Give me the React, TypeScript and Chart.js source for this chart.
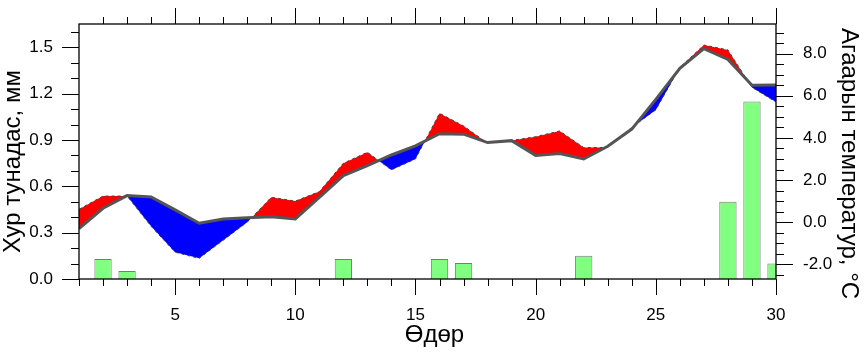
import React, { useEffect, useRef } from 'react';
import { Chart, registerables } from 'chart.js';

Chart.register(...registerables);

// ---- data ----
const days = [1, 2, 3, 4, 5, 6, 7, 8, 9, 10, 11, 12, 13, 14, 15, 16, 17, 18, 19, 20, 21, 22, 23, 24, 25, 26, 27, 28, 29, 30];

// precipitation, mm (left axis)
const precipitation = [null, 0.13, 0.052, null, null, null, null, null, null, null, 0.003, 0.13, null, null, null, 0.13, 0.103, null, null, null, null, 0.15, null, null, null, null, null, 0.5, 1.15, 0.1];

// air temperature, °C (right axis) – solid grey line
const tempObserved = [-0.31, 0.66, 1.26, 1.2, 0.58, -0.05, 0.15, 0.21, 0.26, 0.15, 1.18, 2.21, 2.68, 3.19, 3.62, 4.2, 4.18, 3.78, 3.87, 3.17, 3.26, 3.0, 3.6, 4.42, 5.83, 7.31, 8.24, 7.73, 6.5, 6.51];

// comparison temperature, °C – dashed edge of the red/blue fill
const tempCompare = [0.61, 1.24, 1.24, -0.2, -1.43, -1.72, -0.86, 0.0, 1.18, 1.0, 1.45, 2.8, 3.32, 2.48, 3.0, 5.17, 4.57, 3.75, 3.88, 4.06, 4.33, 3.54, 3.55, 4.5, 5.33, 7.35, 8.41, 8.18, 6.4, 5.7];

const xTickLabels = [5, 10, 15, 20, 25, 30];
const precipTickLabels = [0, 0.3, 0.6, 0.9, 1.2, 1.5];
const tempTickLabels = [-2, 0, 2, 4, 6, 8];

const xTitle = 'Өдөр';
const leftTitle = 'Хур тунадас, мм';
const rightTitle = 'Агаарын температур, °C';

const FONT = "'Liberation Sans', Arial, Helvetica, sans-serif";

const zeroPadding = (s: any) => {
  s.paddingTop = 0;
  s.paddingBottom = 0;
  s.paddingLeft = 0;
  s.paddingRight = 0;
};

const decorPlugin = {
  id: 'decor',
  afterDraw(chart: any) {
    const { ctx, chartArea: a, scales } = chart;
    const xs = scales.x;
    const yl = scales.yPrecip;
    const yr = scales.yTemp;
    ctx.save();
    ctx.strokeStyle = '#000';
    ctx.lineWidth = 1;
    ctx.beginPath();
    // x ticks (bottom and top)
    for (const d of days) {
      const px = Math.round(xs.getPixelForValue(d)) + 0.5;
      const len = d % 5 === 0 ? 16 : 7;
      ctx.moveTo(px, a.bottom);
      ctx.lineTo(px, a.bottom + len);
      if (d > 1) {
        ctx.moveTo(px, a.top);
        ctx.lineTo(px, a.top - len);
      }
    }
    // left ticks every 0.1, major every 0.3
    for (let i = 0; i <= 16; i++) {
      const py = Math.round(yl.getPixelForValue(i / 10)) + 0.5;
      const len = i % 3 === 0 ? 17 : 8;
      ctx.moveTo(a.left, py);
      ctx.lineTo(a.left - len, py);
    }
    // right ticks every 0.5, major every 2
    for (let i = -5; i <= 18; i++) {
      const py = Math.round(yr.getPixelForValue(i / 2)) + 0.5;
      const len = i % 4 === 0 ? 17 : 8;
      ctx.moveTo(a.right, py);
      ctx.lineTo(a.right + len, py);
    }
    ctx.stroke();
    // frame
    ctx.lineWidth = 1.3;
    ctx.strokeRect(a.left, a.top, a.right - a.left, a.bottom - a.top);

    // titles
    ctx.fillStyle = '#000';
    ctx.font = `24px ${FONT}`;
    ctx.textAlign = 'center';
    ctx.textBaseline = 'alphabetic';
    const midY = (a.top + a.bottom) / 2;
    ctx.save();
    ctx.translate(a.left - 59, midY + 10);
    ctx.rotate(-Math.PI / 2);
    ctx.fillText(leftTitle, 0, 0);
    ctx.restore();
    ctx.save();
    ctx.translate(a.right + 66, midY + 12);
    ctx.rotate(Math.PI / 2);
    ctx.fillText(rightTitle, 0, 0);
    ctx.restore();
    ctx.fillText(xTitle, (a.left + a.right) / 2 + 7, a.bottom + 63);
    ctx.restore();
  },
};

export default function App() {
  const ref = useRef<HTMLCanvasElement>(null);
  useEffect(() => {
    const tickFont = { family: FONT, size: 17 };
    const chart = new Chart(ref.current as HTMLCanvasElement, {
      type: 'bar',
      data: {
        datasets: [
          {
            type: 'bar',
            label: 'precip',
            data: days.map((d, i) => ({ x: d, y: precipitation[i] })) as any,
            yAxisID: 'yPrecip',
            backgroundColor: '#80ff80',
            borderColor: '#7a7a7a',
            borderWidth: 1,
            barPercentage: 0.9,
            categoryPercentage: 0.8,
            clip: 0 as any,
            order: 3,
          },
          {
            type: 'line',
            label: 'compare',
            data: days.map((d, i) => ({ x: d, y: tempCompare[i] })) as any,
            yAxisID: 'yTemp',
            borderColor: '#444444',
            borderWidth: 1,
            borderDash: [3, 3],
            pointRadius: 0,
            tension: 0,
            fill: { target: 2, above: '#ff0000', below: '#0000ff' } as any,
            order: 2,
          },
          {
            type: 'line',
            label: 'observed',
            data: days.map((d, i) => ({ x: d, y: tempObserved[i] })) as any,
            yAxisID: 'yTemp',
            borderColor: '#555555',
            borderWidth: 3,
            pointRadius: 0,
            tension: 0,
            fill: false,
            order: 1,
          },
        ],
      },
      options: {
        responsive: false,
        animation: false,
        devicePixelRatio: 1,
        layout: { padding: { top: 24, left: 0, right: 0, bottom: 0 }, autoPadding: false } as any,
        plugins: {
          legend: { display: false },
          tooltip: { enabled: false },
          filler: { drawTime: 'beforeDatasetDraw' } as any,
        },
        scales: {
          x: {
            type: 'linear',
            min: 1,
            max: 30,
            offset: false,
            position: 'bottom',
            grid: { display: false, drawTicks: false },
            border: { display: false },
            ticks: {
              autoSkip: false,
              maxRotation: 0,
              padding: 26,
              color: '#000',
              font: tickFont,
              callback: (v: any) => String(v),
            },
            afterBuildTicks: (s: any) => {
              s.ticks = xTickLabels.map((v) => ({ value: v }));
            },
            afterFit: (s: any) => {
              s.height = 74;
              zeroPadding(s);
            },
          },
          yPrecip: {
            type: 'linear',
            position: 'left',
            min: 0,
            max: 1.651,
            grid: { display: false, drawTicks: false },
            border: { display: false },
            ticks: {
              autoSkip: false,
              padding: 26,
              color: '#000',
              font: tickFont,
              callback: (v: any) => Number(v).toFixed(1),
            },
            afterBuildTicks: (s: any) => {
              s.ticks = precipTickLabels.map((v) => ({ value: v }));
            },
            afterFit: (s: any) => {
              s.width = 79;
              zeroPadding(s);
            },
          },
          yTemp: {
            type: 'linear',
            position: 'right',
            min: -2.7,
            max: 9.41,
            grid: { display: false, drawTicks: false },
            border: { display: false },
            ticks: {
              autoSkip: false,
              padding: 27,
              color: '#000',
              font: tickFont,
              callback: (v: any) => Number(v).toFixed(1),
            },
            afterBuildTicks: (s: any) => {
              s.ticks = tempTickLabels.map((v) => ({ value: v }));
            },
            afterFit: (s: any) => {
              s.width = 88;
              zeroPadding(s);
            },
          },
        } as any,
      },
      plugins: [decorPlugin],
    });
    return () => chart.destroy();
  }, []);

  return (
    <div style={{ position: 'fixed', left: 0, top: 0, width: 864, height: 353, background: '#fff' }}>
      <canvas ref={ref} width={864} height={353} style={{ display: 'block', width: 864, height: 353 }} />
    </div>
  );
}
